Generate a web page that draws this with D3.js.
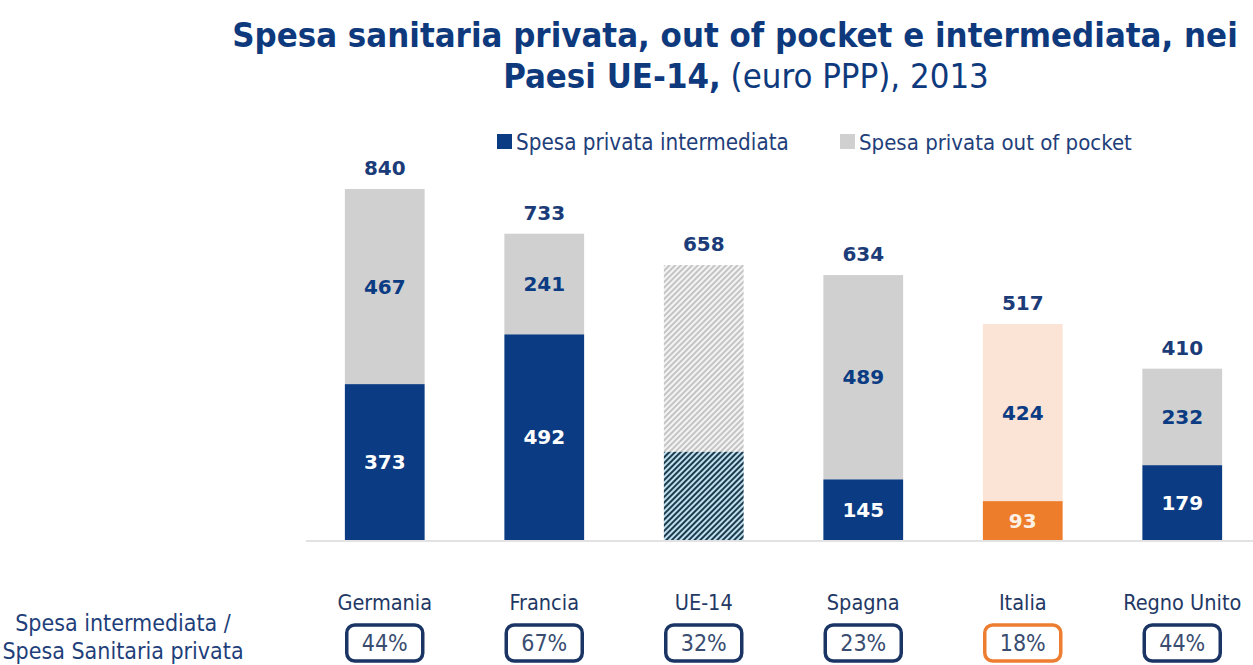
<!DOCTYPE html>
<html lang="it">
<head>
  <meta charset="UTF-8">
  <title>Spesa sanitaria privata</title>
  <script src="https://d3js.org/d3.v7.min.js"></script>
  <style>
    body { margin: 0; background: #fff; }
    text { font-family: "DejaVu Sans Condensed", "DejaVu Sans", sans-serif; }
    .num { font-family: "DejaVu Sans", sans-serif; }
  </style>
</head>
<body>
  <svg width="1253" height="665"></svg>
  <script>
    const categories = ["Germania", "Francia", "UE-14", "Spagna", "Italia", "Regno Unito"];
    const intermediata = [373, 492, 211, 145, 93, 179];
    const outOfPocket = [467, 241, 447, 489, 424, 232];
    const totals = [840, 733, 658, 634, 517, 410];
    const quota = ["44%", "67%", "32%", "23%", "18%", "44%"];
    const legendLabels = ["Spesa privata intermediata", "Spesa privata out of pocket"];

    const blue = "#0b3b82";
    const grey = "#d0d0d0";
    const navy = "#1b3c78";

    const svg = d3.select("svg");

    // patterns for UE-14
    const defs = svg.append("defs");
    function stripes(id, bg, fg) {
      const p = defs.append("pattern")
        .attr("id", id)
        .attr("patternUnits", "userSpaceOnUse")
        .attr("width", 4).attr("height", 4)
        .attr("patternTransform", "rotate(45)");
      p.append("rect").attr("width", 4).attr("height", 4).attr("fill", bg);
      p.append("rect").attr("width", 2).attr("height", 4).attr("fill", fg);
    }
    stripes("hatchGrey", "#f4f4f4", "#c4c4c4");
    stripes("hatchDark", "#bfe0ec", "#1d3a4e");

    const x = d3.scaleBand()
      .domain(categories)
      .range([305, 1262])
      .paddingInner(0.5)
      .paddingOuter(0.25);

    const y = d3.scaleLinear()
      .domain([0, 840])
      .range([540, 189]);

    const rows = categories.map((c, i) => ({
      cat: c, inter: intermediata[i], oop: outOfPocket[i], tot: totals[i], q: quota[i]
    }));
    const cx = d => x(d.cat) + x.bandwidth() / 2;

    function fillInter(d) {
      if (d.cat === "UE-14") return "url(#hatchDark)";
      if (d.cat === "Italia") return "#ee7d2b";
      return blue;
    }
    function fillOop(d) {
      if (d.cat === "UE-14") return "url(#hatchGrey)";
      if (d.cat === "Italia") return "#fbe4d6";
      return grey;
    }

    // axis line
    svg.append("line")
      .attr("x1", 306).attr("x2", 1253)
      .attr("y1", 541).attr("y2", 541)
      .attr("stroke", "#d9d9d9").attr("stroke-width", 1.5);

    const g = svg.append("g");
    const bar = g.selectAll(".bar").data(rows).enter().append("g").attr("class", "bar");

    // out of pocket on top, drawn up to the total
    bar.append("rect")
      .attr("x", d => x(d.cat))
      .attr("width", x.bandwidth())
      .attr("y", d => y(d.tot))
      .attr("height", d => y(d.inter) - y(d.tot))
      .attr("fill", fillOop);

    bar.append("rect")
      .attr("x", d => x(d.cat))
      .attr("width", x.bandwidth())
      .attr("y", d => y(d.inter))
      .attr("height", d => y(0) - y(d.inter))
      .attr("fill", fillInter);

    // segment labels (not for UE-14)
    const lab = rows.filter(d => d.cat !== "UE-14");
    g.selectAll(".lInter").data(lab).enter().append("text")
      .attr("class", "num")
      .attr("x", cx)
      .attr("y", d => (y(0) + y(d.inter)) / 2)
      .attr("dy", "0.36em")
      .attr("text-anchor", "middle")
      .attr("font-size", 20).attr("font-weight", "bold")
      .attr("fill", d => d.cat === "Italia" ? "#fdf1e6" : "#ffffff")
      .text(d => d.inter);

    g.selectAll(".lOop").data(lab).enter().append("text")
      .attr("class", "num")
      .attr("x", cx)
      .attr("y", d => (y(d.inter) + y(d.tot)) / 2)
      .attr("dy", "0.36em")
      .attr("text-anchor", "middle")
      .attr("font-size", 20).attr("font-weight", "bold")
      .attr("fill", blue)
      .text(d => d.oop);

    g.selectAll(".lTot").data(rows).enter().append("text")
      .attr("class", "num")
      .attr("x", cx)
      .attr("y", d => y(d.tot) - 21)
      .attr("dy", "0.36em")
      .attr("text-anchor", "middle")
      .attr("font-size", 20).attr("font-weight", "bold")
      .attr("fill", navy)
      .text(d => d.tot);

    // category labels
    g.selectAll(".cat").data(rows).enter().append("text")
      .attr("x", cx)
      .attr("y", 602)
      .attr("dy", "0.36em")
      .attr("text-anchor", "middle")
      .attr("font-size", 21.5)
      .attr("fill", "#1f3864")
      .text(d => d.cat);

    // ratio boxes
    g.selectAll(".box").data(rows).enter().append("rect")
      .attr("x", d => cx(d) - 38)
      .attr("y", 625)
      .attr("width", 76).attr("height", 36)
      .attr("rx", 8)
      .attr("fill", "#fff")
      .attr("stroke", d => d.cat === "Italia" ? "#ed7d31" : "#1a3563")
      .attr("stroke-width", 3.5);

    g.selectAll(".q").data(rows).enter().append("text")
      .attr("x", cx)
      .attr("y", 643)
      .attr("dy", "0.36em")
      .attr("text-anchor", "middle")
      .attr("font-size", 23)
      .attr("fill", "#3a4d70")
      .text(d => d.q);

    // left label
    const ll = svg.append("text")
      .attr("text-anchor", "middle")
      .attr("font-size", 23)
      .attr("fill", "#1f3f7a");
    ll.append("tspan").attr("x", 123).attr("y", 631).text("Spesa intermediata /");
    ll.append("tspan").attr("x", 123).attr("y", 659).text("Spesa Sanitaria privata");

    // legend
    const leg = svg.append("g");
    [[497, blue], [840, grey]].forEach((p, i) => {
      leg.append("rect").attr("x", p[0]).attr("y", 134).attr("width", 15).attr("height", 15).attr("fill", p[1]);
      const t = leg.append("text").attr("x", p[0] + 19).attr("y", 142).attr("dy", "0.36em")
        .attr("font-size", 16).attr("fill", "#1f3f7a").text(legendLabels[i]);
      t.attr("font-size", 16 * 273 / t.node().getComputedTextLength());
    });

    // title
    const t1 = svg.append("text")
      .attr("x", 735).attr("y", 47)
      .attr("text-anchor", "middle")
      .attr("font-size", 30).attr("font-weight", "bold")
      .attr("fill", "#0e3a7d")
      .text("Spesa sanitaria privata, out of pocket e intermediata, nei");
    const w = t1.node().getComputedTextLength();
    const fs = 30 * 1006 / w;
    t1.attr("font-size", fs);

    const t2 = svg.append("text")
      .attr("x", 746).attr("y", 88)
      .attr("text-anchor", "middle")
      .attr("font-size", fs)
      .attr("fill", "#0e3a7d");
    t2.append("tspan").attr("font-weight", "bold").text("Paesi UE-14,");
    t2.append("tspan").text(" (euro PPP), 2013");
  </script>
</body>
</html>
